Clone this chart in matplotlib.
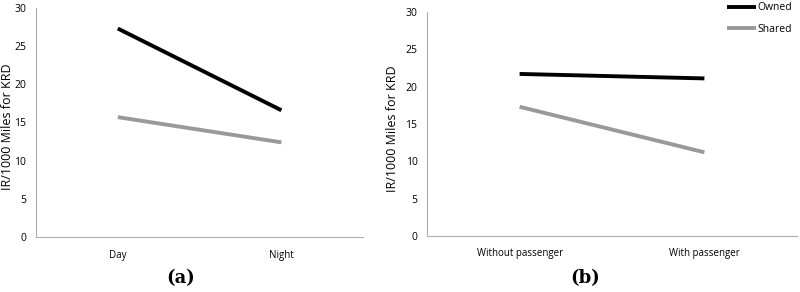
import matplotlib.pyplot as plt

plt.rcParams['font.family'] = ['Open Sans', 'DejaVu Sans']

cats_a = ["Day", "Night"]
owned_a = [27.3, 16.6]
shared_a = [15.7, 12.4]

cats_b = ["Without passenger", "With passenger"]
owned_b = [21.7, 21.1]
shared_b = [17.3, 11.2]

yticks = [0, 5, 10, 15, 20, 25, 30]
ylabel = "IR/1000 Miles for KRD"

fig = plt.figure(figsize=(8, 2.92), dpi=100)
ax_a = fig.add_axes([0.045, 0.188, 0.409, 0.785])
ax_b = fig.add_axes([0.534, 0.192, 0.462, 0.767])


def style(ax, cats, owned, shared, labx):
    x = [0.5, 1.5]
    ax.plot(x, owned, color="black", lw=2.8, solid_capstyle="butt", label="Owned")
    ax.plot(x, shared, color="#999999", lw=2.8, solid_capstyle="butt", label="Shared")
    ax.set_xlim(0, 2)
    ax.set_ylim(0, 30)
    ax.set_xticks(x)
    ax.set_xticklabels(cats, fontsize=7)
    ax.set_yticks(yticks)
    ax.tick_params(axis="y", labelsize=7.5, length=0, pad=7)
    ax.tick_params(axis="x", length=0, pad=9)
    for s in ["top", "right"]:
        ax.spines[s].set_visible(False)
    for s in ["left", "bottom"]:
        ax.spines[s].set_color("#b0b0b0")
        ax.spines[s].set_linewidth(0.8)
    ax.set_ylabel(ylabel, fontsize=9)
    ax.yaxis.set_label_coords(labx, 0.48)


style(ax_a, cats_a, owned_a, shared_a, -0.066)
style(ax_b, cats_b, owned_b, shared_b, -0.077)

leg = ax_b.legend(loc="upper right", bbox_to_anchor=(1.012, 1.085), frameon=False,
                  fontsize=7.5, handlelength=2.8, handletextpad=0.1, labelspacing=1.0)

fig.text(0.226, 0.03, "(a)", fontsize=13, fontweight="bold", family="DejaVu Serif", ha="center")
fig.text(0.732, 0.03, "(b)", fontsize=13, fontweight="bold", family="DejaVu Serif", ha="center")

fig.savefig("out.png", dpi=100)
